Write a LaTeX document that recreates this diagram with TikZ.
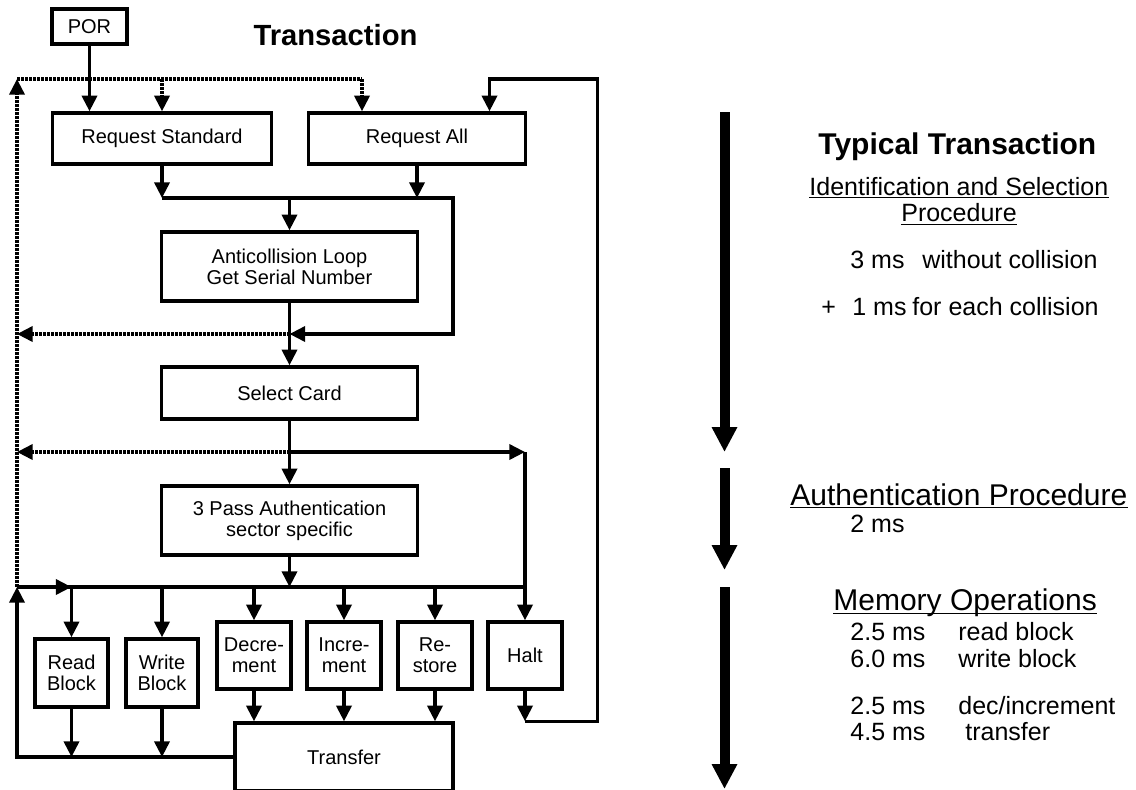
\documentclass[tikz,border=0pt]{standalone}
\usepackage{fontspec}
\setmainfont{Liberation Sans}
\usetikzlibrary{arrows.meta}

\tikzset{
  blk/.style={draw, line width=1.7pt, inner sep=0pt, align=center,
    font=\fontsize{10}{10.5}\selectfont},
  wire/.style={line width=1.7pt},
  arr/.style={wire, -{Triangle[length=7.8pt,width=7.5pt]}},
  dots/.style={line width=1.7pt, dash pattern=on 1.3pt off 0.7pt},
  darr/.style={dots, -{Triangle[length=7.8pt,width=7.5pt]}},
  bigarr/.style={line width=5pt, -{Triangle[length=12.5pt,width=12pt]}},
  small/.style={inner sep=0pt, anchor=base west, font=\fontsize{12.5}{15}\selectfont},
  big/.style={inner sep=0pt, anchor=base west, font=\fontsize{15}{18}\selectfont},
  uline/.style={line width=0.8pt},
}

\begin{document}
\begin{tikzpicture}[x=0.5pt,y=-0.5pt]
  \useasboundingbox (0,0) rectangle (1136,789);

  % boxes
  \node[blk, minimum width=37.5pt, minimum height=17.5pt] (por) at (89.5,26.5) {POR};
  \node[blk, minimum width=109.5pt, minimum height=25.5pt] (reqstd) at (162,138.5) {Request Standard};
  \node[blk, minimum width=108.5pt, minimum height=25.5pt] (reqall) at (417,138.5) {Request All};
  \node[blk, minimum width=128pt, minimum height=34.5pt] (anticoll) at (289.5,266.5) {Anticollision Loop\\Get Serial Number};
  \node[blk, minimum width=128pt, minimum height=26pt] (select) at (289.5,393) {Select Card};
  \node[blk, minimum width=128pt, minimum height=34.5pt] (auth) at (289.5,520.5) {3 Pass Authentication\\sector specific};
  \node[blk, minimum width=36.5pt, minimum height=34pt] (read) at (71.5,673) {Read\\Block};
  \node[blk, minimum width=36pt, minimum height=34pt] (write) at (162,673) {Write\\Block};
  \node[blk, minimum width=37pt, minimum height=33.5pt] (decr) at (254,655.5) {Decre-\\ment};
  \node[blk, minimum width=37pt, minimum height=33.5pt] (incr) at (344,655.5) {Incre-\\ment};
  \node[blk, minimum width=37pt, minimum height=33.5pt] (restore) at (435,655.5) {Re-\\store};
  \node[blk, minimum width=37pt, minimum height=33.5pt] (halt) at (525,655.5) {Halt};
  \node[blk, minimum width=109pt, minimum height=34pt] (transfer) at (344,757) {Transfer};

  \node[inner sep=0pt, anchor=base, font=\bfseries\fontsize{14.6}{17}\selectfont] (title) at (335.5,45.7) {Transaction};

  % junctions
  \coordinate (tl) at (17,79);
  \coordinate (bl) at (17,587);
  \coordinate (top2) at (362,79);
  \coordinate (rr) at (597.5,79);
  \coordinate (ra) at (489.5,79);
  \coordinate (mc) at (289.5,198);
  \coordinate (mr) at (453,198);
  \coordinate (ret) at (289.5,334);
  \coordinate (sel) at (289.5,452);
  \coordinate (bus) at (289.5,587);

  % start and reset paths
  \draw[arr] (por.south) -- (por.south |- reqstd.north);
  \draw[darr] (bl) -- (tl);
  \draw[dots] (tl) -- (top2);
  \draw[darr] (reqstd.north |- tl) -- (reqstd.north);
  \draw[darr] (top2) -- (top2 |- reqall.north);

  % identification and selection
  \draw[arr] (reqstd.south) -- (reqstd.south |- mc);
  \draw[arr] (reqall.south) -- (reqall.south |- mc);
  \draw[arr] (reqstd.south |- mc) -- (mr) |- (ret);
  \draw[arr] (mc) -- (anticoll.north);
  \draw[arr] (anticoll.south) -- (select.north);
  \draw[darr] (ret) -- (ret -| tl);
  \draw[arr] (select.south) -- (auth.north);
  \draw[darr] (sel) -- (sel -| tl);
  \draw[arr] (sel) -- (sel -| halt);
  \draw[arr] (sel -| halt) -- (halt.north);

  % memory operations
  \draw[arr] (auth.south) -- (bus);
  \draw[wire] (bl) -- (bus -| halt);
  \draw[arr] (bl) -- (bl -| read);
  \foreach \n in {read,write,decr,incr,restore}
    \draw[arr] (bus -| \n) -- (\n.north);
  \foreach \n in {decr,incr,restore}
    \draw[arr] (\n.south) -- (\n.south |- transfer.north);
  \foreach \n in {read,write}
    \draw[arr] (\n.south) -- (\n.south |- transfer.west);
  \draw[arr] (transfer.west) -| (bl);
  \draw[arr] (halt.south) -- (halt.south |- transfer.north);
  \draw[arr] (halt.south |- transfer.north) -| (rr) -| (ra |- reqall.north);

  % time line
  \coordinate (a1s) at (724.5,112);
  \coordinate (a1e) at (724.5,452);
  \coordinate (a2s) at (724.5,468);
  \coordinate (a2e) at (724.5,570);
  \coordinate (a3s) at (724.5,587);
  \coordinate (a3e) at (724.5,789);
  \draw[bigarr] (a1s) -- (a1e);
  \draw[bigarr] (a2s) -- (a2e);
  \draw[bigarr] (a3s) -- (a3e);

  \node[big, font=\bfseries\fontsize{15}{18}\selectfont] (typ) at (818,154) {Typical Transaction};
  \node[small] (idsel) at (809,195) {Identification and Selection};
  \node[small, anchor=base] (proc) at (959,221.7) {Procedure};
  \node[small] (t3) at (850,268) {\makebox[36pt][l]{3 ms}without collision};
  \node[small] (t1) at (821,315) {\makebox[15.5pt][l]{+}\makebox[30pt][l]{1 ms}for each collision};
  \node[big] (authp) at (790,505) {Authentication Procedure};
  \node[small] (t2) at (850,532.7) {2 ms};
  \node[big] (memop) at (833,610.7) {Memory Operations};
  \node[small] (m1) at (850,640) {\makebox[54pt][l]{2.5 ms}read block};
  \node[small] (m2) at (850,667.7) {\makebox[54pt][l]{6.0 ms}write block};
  \node[small] (m3) at (850,714) {\makebox[54pt][l]{2.5 ms}dec/increment};
  \node[small] (m4) at (850,740) {\makebox[57.5pt][l]{4.5 ms}transfer};

  \foreach \n in {idsel,proc,authp,memop}
    \draw[uline] ([yshift=-1.3pt]\n.base west) -- ([yshift=-1.3pt]\n.base east);
\end{tikzpicture}
\end{document}
